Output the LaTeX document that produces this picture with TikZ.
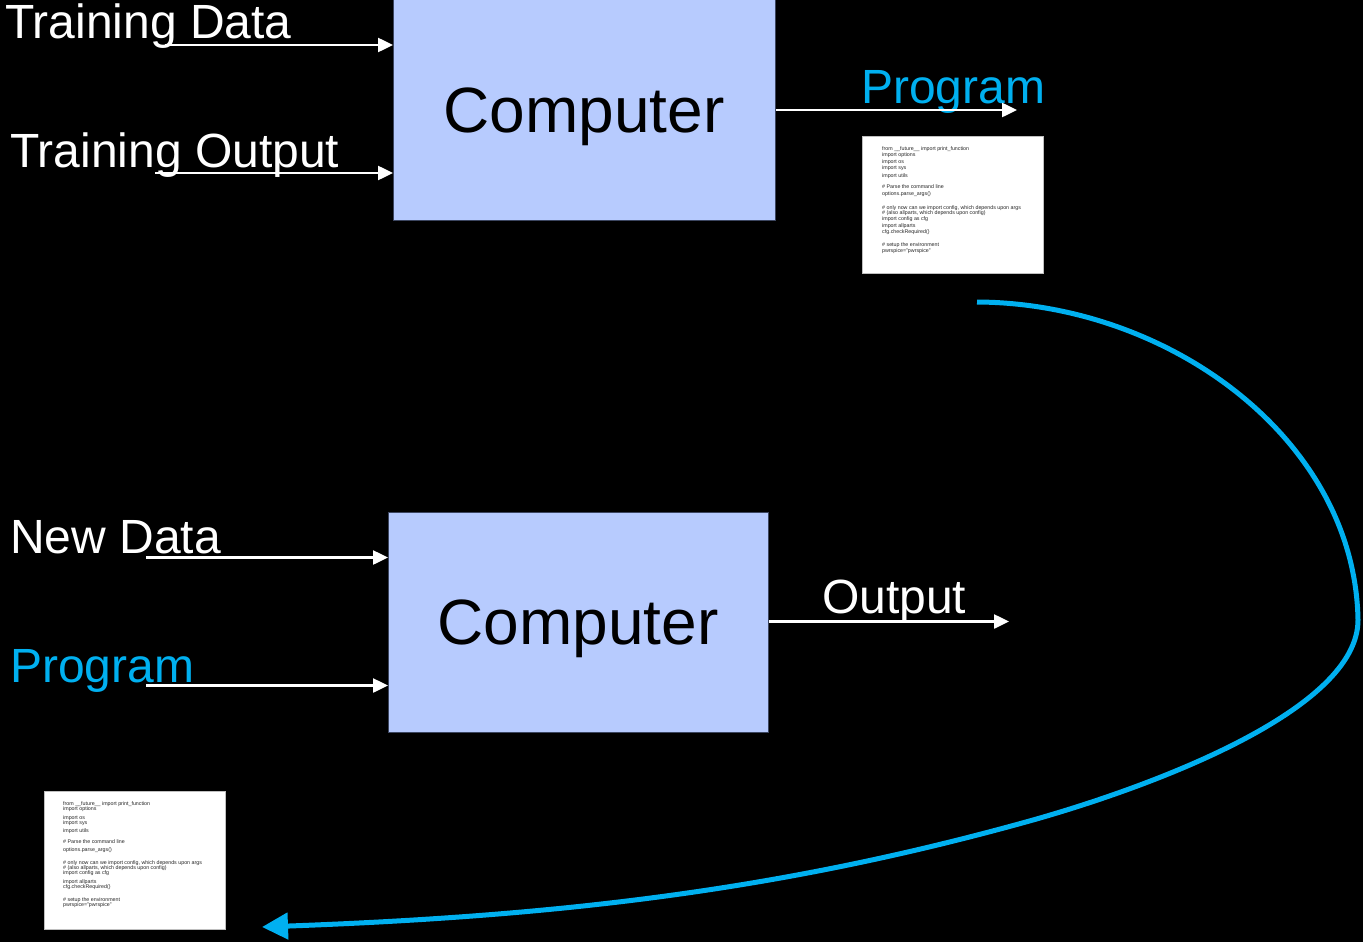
\documentclass[tikz,border=0pt]{standalone}
\usepackage{fontspec}
\setmainfont{Liberation Sans}
\usetikzlibrary{arrows.meta}
\definecolor{boxfill}{HTML}{B7CBFE}
\definecolor{boxline}{HTML}{3C4660}
\definecolor{progblue}{HTML}{00B0F0}
\begin{document}
\begin{tikzpicture}[x=1pt,y=-1pt,
  lbl/.style={font=\fontsize{48}{56}\selectfont, text=white, anchor=base west, inner sep=0pt},
  cmplbl/.style={font=\fontsize{64}{72}\selectfont, text=black, anchor=base, inner sep=0pt},
  compbox/.style={draw=boxline, line width=1pt, fill=boxfill, inner sep=0pt, anchor=north west},
  codebox/.style={draw=gray!50, line width=0.5pt, fill=white, inner sep=0pt, anchor=north west,
    minimum width=181pt, minimum height=137pt},
  codetext/.style={anchor=north west, inner sep=0pt, align=left, text=black!85},
  warrow/.style={draw=white, line width=2.5pt, -{Triangle[length=15pt,width=14pt]}},
  progloop/.style={draw=progblue, line width=5pt, -{Triangle[length=26pt,width=26pt]}}
]
\useasboundingbox (0,0) rectangle (1363,942);
\fill[black] (0,0) rectangle (1363,942);

% --- training stage ---
\node[compbox, minimum width=382pt, minimum height=222pt] (comp1) at (393,-2) {};
\node[cmplbl] (comp1txt) at (584,132) {Computer};

\node[lbl] (tdLbl) at (5,39) {Training Data};
\node[lbl] (toLbl) at (10,167) {Training Output};
\node[lbl, text=progblue] (progLbl) at (861,103) {Program};

\coordinate (tdStart) at (165,45);
\coordinate (toStart) at (155,173);
\coordinate (progEnd) at (1017,110);
\draw[warrow] (tdStart) -- (comp1.west |- tdStart);
\draw[warrow] (toStart) -- (comp1.west |- toStart);
\draw[warrow] (comp1.east |- progEnd) -- (progEnd);

% listing produced by training
\node[codebox] (code1) at (862,136) {};
\node[codetext, font=\fontsize{5.3}{6}\selectfont] (code1txt) at (882,146.2) {%
from \_\_future\_\_ import print\_function\\
import options\\[1pt]
import os\\
import sys\\[2pt]
import utils\\[5pt]
\# Parse the command line\\[1pt]
options.parse\_args()\\[8pt]
\# only now can we import config, which depends upon args\\[-1pt]
\# (also allparts, which depends upon config)\\
import config as cfg\\[1pt]
import allparts\\
cfg.checkRequired()\\[7pt]
\# setup the environment\\
pwrspice="pwrspice"};

% --- application stage ---
\node[compbox, minimum width=380pt, minimum height=220pt] (comp2) at (388,512) {};
\node[cmplbl] (comp2txt) at (578,644) {Computer};

\node[lbl] (ndLbl) at (10,553) {New Data};
\node[lbl, text=progblue] (pgLbl) at (10,682) {Program};
\node[lbl] (outLbl) at (822,613) {Output};

\coordinate (ndStart) at (146,557.5);
\coordinate (pgStart) at (146,685.5);
\coordinate (outEnd) at (1009,621.5);
\draw[warrow] (ndStart) -- (comp2.west |- ndStart);
\draw[warrow] (pgStart) -- (comp2.west |- pgStart);
\draw[warrow] (comp2.east |- outEnd) -- (outEnd);

% listing fed back in
\node[codebox, minimum height=138pt] (code2) at (44,791) {};
\node[codetext, font=\fontsize{5.3}{5}\selectfont] (code2txt) at (63,801.2) {%
from \_\_future\_\_ import print\_function\\
import options\\[4pt]
import os\\
import sys\\[3pt]
import utils\\[6pt]
\# Parse the command line\\[3pt]
options.parse\_args()\\[8pt]
\# only now can we import config, which depends upon args\\
\# (also allparts, which depends upon config)\\
import config as cfg\\[4pt]
import allparts\\
cfg.checkRequired()\\[8pt]
\# setup the environment\\
pwrspice="pwrspice"};

% --- the program travels from training to application ---
\coordinate (loopStart) at (977,302);
\coordinate (loopTurn) at (1358,620);
\coordinate (loopMid) at (1033,820);
\coordinate (loopEnd) at (262,927);
\draw[progloop] (loopStart)
  .. controls (1170,303) and (1355,440) .. (loopTurn)
  .. controls (1358,710) and (1153,786) .. (loopMid)
  .. controls (783,890) and (562,916) .. (loopEnd);
\end{tikzpicture}
\end{document}
